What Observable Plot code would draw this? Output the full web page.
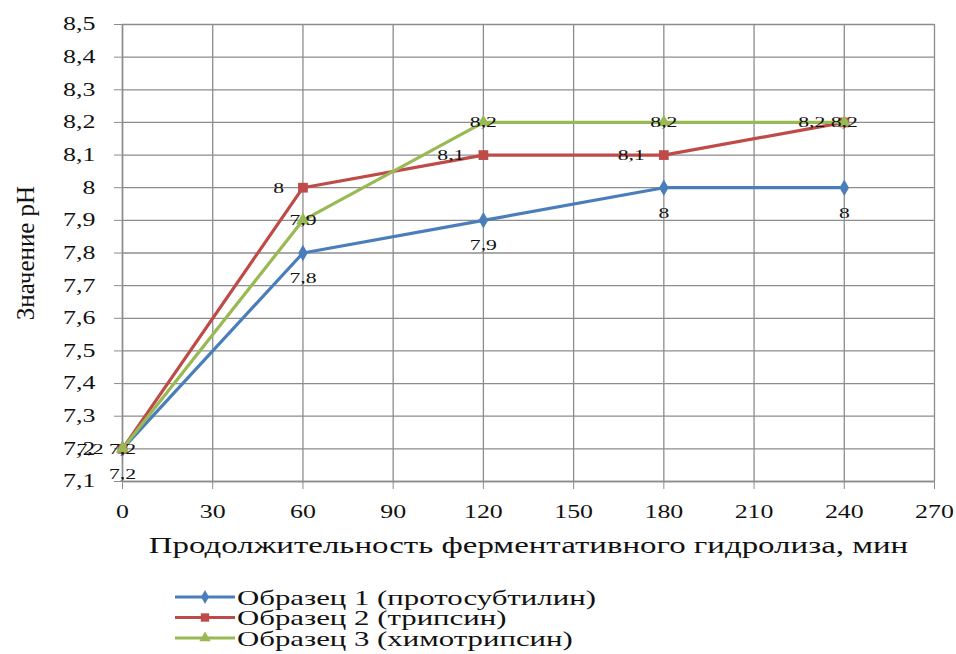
<!DOCTYPE html>
<html>
<head>
<meta charset="utf-8">
<script src="https://cdn.jsdelivr.net/npm/d3@7"></script>
<script src="https://cdn.jsdelivr.net/npm/@observablehq/plot@0.6"></script>
<style>
  body { margin: 0; background: #fff; }
  #chart svg { display: block; }
  #chart svg, #chart svg text { font-family: "Liberation Serif", "Tinos", "Times New Roman", "DejaVu Serif", serif !important; }
</style>
</head>
<body>
<div id="chart"></div>
<script>
const minutes = [0, 60, 120, 180, 240];
const sample1 = [7.2, 7.8, 7.9, 8.0, 8.0];
const sample2 = [7.2, 8.0, 8.1, 8.1, 8.2];
const sample3 = [7.2, 7.9, 8.2, 8.2, 8.2];
const seriesNames = ["Образец 1 (протосубтилин)", "Образец 2 (трипсин)", "Образец 3 (химотрипсин)"];
const seriesColors = ["#4A7EBB", "#BE4B48", "#98B954"];
const seriesSymbols = ["diamond", "square", "triangle"];
const xTicks = [0, 30, 60, 90, 120, 150, 180, 210, 240, 270];
const yTicks = [7.1, 7.2, 7.3, 7.4, 7.5, 7.6, 7.7, 7.8, 7.9, 8.0, 8.1, 8.2, 8.3, 8.4, 8.5];
const xTitle = "Продолжительность ферментативного гидролиза, мин";
const yTitle = "Значение pH";

const fmt = v => String(Math.round(v * 10) / 10).replace(".", ",");
const all = [sample1, sample2, sample3];
const rows = all.map((vals, i) => minutes.map((m, j) => ({x: m, y: vals[j], s: i})));

const gridColor = "#8c8c8c";
const stretch = 1.4;

const labelOpts = [
  {dy: 25, textAnchor: "middle", dx: 0},
  {dy: 0, textAnchor: "end", dx: -19},
  {dy: 0, textAnchor: "middle", dx: 0}
];

const marks = [
  Plot.gridX(xTicks, {stroke: gridColor, strokeOpacity: 1, strokeWidth: 1.3}),
  Plot.gridY(yTicks, {stroke: gridColor, strokeOpacity: 1, strokeWidth: 1.3}),
  Plot.axisX(xTicks, {tickSize: 8, tickPadding: 15, stroke: gridColor, fill: "#111", fontSize: 18.5, label: null}),
  Plot.axisY(yTicks, {tickSize: 8, tickPadding: 19, stroke: gridColor, fill: "#111", fontSize: 18.5, tickFormat: fmt, label: null}),
  Plot.ruleX([0], {stroke: gridColor, strokeWidth: 1.5}),
  Plot.ruleY([7.1], {stroke: gridColor, strokeWidth: 1.5})
];
rows.forEach((d, i) => {
  marks.push(Plot.line(d, {x: "x", y: "y", stroke: seriesColors[i], strokeWidth: 3.2}));
  marks.push(Plot.dot(d, {x: "x", y: "y", fill: seriesColors[i], symbol: seriesSymbols[i], r: i === 1 ? 5.5 : 5}));
});
rows.forEach((d, i) => {
  marks.push(Plot.text(d, {x: "x", y: "y", text: r => fmt(r.y), fontSize: 15.5, fill: "#111",
    dy: labelOpts[i].dy, dx: labelOpts[i].dx, textAnchor: labelOpts[i].textAnchor}));
});
marks.push(Plot.text([xTitle], {frameAnchor: "bottom", dy: 71, fontSize: 23.5, fill: "#111"}));
marks.push(Plot.text([yTitle], {frameAnchor: "left", textAnchor: "middle", dx: -97, rotate: -90, fontSize: 25, fill: "#111"}));

const chart = Plot.plot({
  width: 956,
  height: 575,
  marginLeft: 122,
  marginRight: 22,
  marginTop: 24,
  marginBottom: 94,
  style: {background: "#fff"},
  x: {domain: [0, 270]},
  y: {domain: [7.1, 8.5]},
  marks
});
document.getElementById("chart").appendChild(chart);

// Legend below the plot
const leg = d3.select("#chart").append("svg")
  .attr("width", 956).attr("height", 79);
seriesNames.forEach((name, i) => {
  const cy = 22 + i * 20.5;
  const g = leg.append("g");
  g.append("line").attr("x1", 175).attr("x2", 235).attr("y1", cy).attr("y2", cy)
    .attr("stroke", seriesColors[i]).attr("stroke-width", 3.2);
  const sym = [d3.symbolDiamond, d3.symbolSquare, d3.symbolTriangle][i];
  g.append("path").attr("d", d3.symbol(sym, i === 1 ? 70 : 55)())
    .attr("transform", `translate(205,${cy})`).attr("fill", seriesColors[i]);
  g.append("text").attr("x", 237).attr("y", cy).attr("dy", "0.35em")
    .attr("font-size", 22).attr("fill", "#111").text(name);
});

// The reference typography is horizontally wide: widen each horizontal text.
d3.select("#chart").selectAll("text").each(function () {
  if (this.textContent === yTitle) return;
  const len = this.getComputedTextLength();
  if (len > 0) {
    this.setAttribute("textLength", (len * stretch).toFixed(1));
    this.setAttribute("lengthAdjust", "spacingAndGlyphs");
  }
});
</script>
</body>
</html>
